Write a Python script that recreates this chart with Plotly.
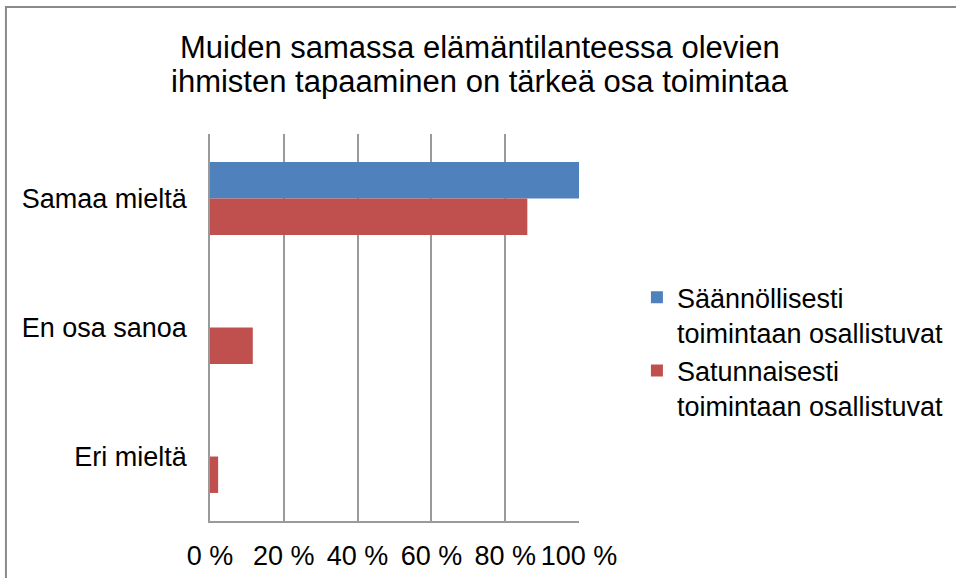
import plotly.graph_objects as go

categories = ["Samaa mieltä", "En osa sanoa", "Eri mieltä"]
series_names = ["Säännöllisesti<br>toimintaan osallistuvat", "Satunnaisesti<br>toimintaan osallistuvat"]
saannollisesti = [100, 0, 0]
satunnaisesti = [86, 11.6, 2.2]
tick_values = [0, 20, 40, 60, 80, 100]
tick_labels = ["0 %", "20 %", "40 %", "60 %", "80 %", "100 %"]
title_lines = ["Muiden samassa elämäntilanteessa olevien", "ihmisten tapaaminen on tärkeä osa toimintaa"]

FONT = "Liberation Sans, Arial, sans-serif"

fig = go.Figure()
fig.add_trace(go.Bar(y=categories, x=saannollisesti, orientation="h", name=series_names[0],
                     marker=dict(color="#4F81BD", line=dict(width=0))))
fig.add_trace(go.Bar(y=categories, x=satunnaisesti, orientation="h", name=series_names[1],
                     marker=dict(color="#C0504D", line=dict(width=0))))

title_y = [1.2248, 1.1344]
annotations = [dict(text=t, xref="paper", yref="paper", x=0.7317, y=yy, xanchor="center",
                    yanchor="middle", showarrow=False,
                    font=dict(family=FONT, size=31, color="black"))
               for t, yy in zip(title_lines, title_y)]

fig.update_layout(
    width=956, height=578,
    margin=dict(l=210, r=377, t=134, b=57, pad=0, autoexpand=False),
    paper_bgcolor="white", plot_bgcolor="white",
    font=dict(family=FONT, size=27, color="black"),
    barmode="group", bargap=0.435, bargroupgap=0,
    showlegend=True,
    legend=dict(x=1.157, xanchor="left", y=0.64, yanchor="top", valign="top",
                font=dict(family=FONT, size=27, color="black"),
                bgcolor="rgba(0,0,0,0)", itemwidth=30),
    xaxis=dict(range=[0, 100], tickvals=tick_values, ticktext=tick_labels,
               showgrid=True, gridcolor="#9a9a9a", gridwidth=1.5,
               showline=True, linecolor="#9a9a9a", linewidth=1.5,
               ticks="", zeroline=False, ticklabelstandoff=10,
               tickfont=dict(family=FONT, size=27, color="black"), fixedrange=True),
    yaxis=dict(autorange="reversed", showgrid=False, showline=True, linecolor="#9a9a9a",
               linewidth=1.5, ticks="", ticklabelstandoff=16,
               tickfont=dict(family=FONT, size=27, color="black"), fixedrange=True),
    annotations=annotations,
    shapes=[dict(type="rect", xref="paper", yref="paper", x0=-0.553, x1=2.2, y0=-0.3, y1=1.328,
                 line=dict(color="#8a8a8a", width=2), fillcolor="rgba(0,0,0,0)", layer="below")],
)

fig.write_html("out.html", config={"displayModeBar": False},
               post_script="document.body.style.margin='0';")
